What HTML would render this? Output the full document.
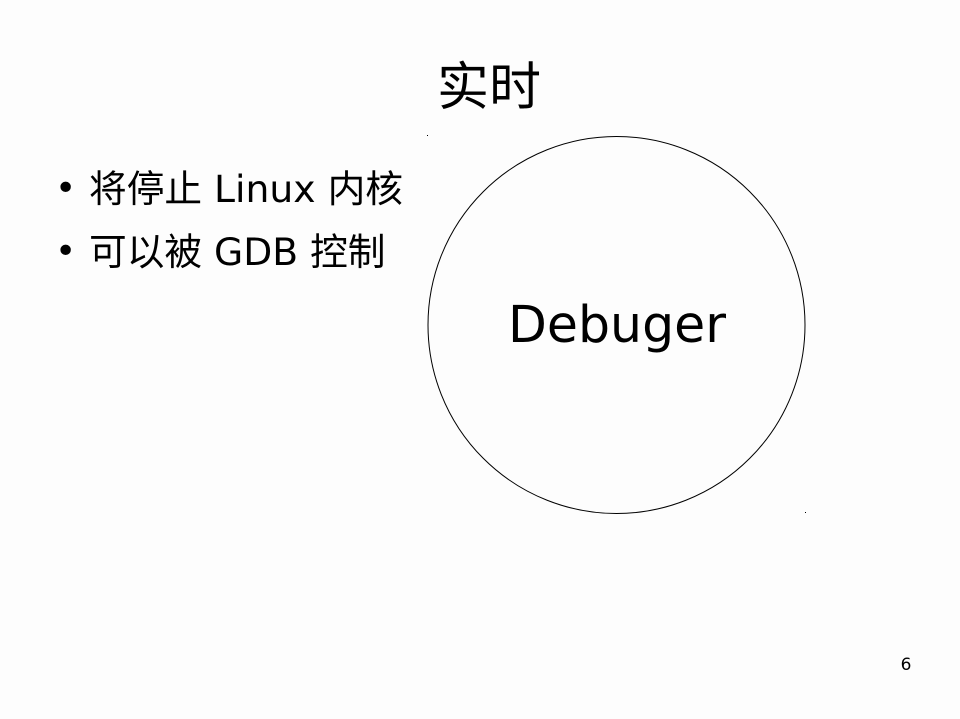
<!DOCTYPE html>
<html><head><meta charset="utf-8"><style>
html,body{margin:0;padding:0;}
body{width:960px;height:719px;background:#fdfdfd;position:relative;overflow:hidden;font-family:"DejaVu Sans","Liberation Sans","Noto Sans CJK SC",sans-serif;color:#000;}
.t{position:absolute;white-space:nowrap;}
</style></head><body>
<div class="t" style="left:0;width:978px;text-align:center;top:56px;font-size:52px;line-height:64px;">实时</div>
<div class="t" style="left:55px;top:167px;font-size:36px;line-height:44px;">•</div>
<div class="t" style="left:89px;top:167px;font-size:37.7px;line-height:44px;">将停止 Linux 内核</div>
<div class="t" style="left:55px;top:230px;font-size:36px;line-height:44px;">•</div>
<div class="t" style="left:89px;top:230px;font-size:37.7px;line-height:44px;">可以被 GDB 控制</div>
<svg width="960" height="719" style="position:absolute;left:0;top:0">
<circle cx="616.5" cy="325" r="188.5" fill="none" stroke="#000" stroke-width="1"/>
<text x="617" y="342" font-size="50.5" text-anchor="middle" font-family="DejaVu Sans, sans-serif">Debuger</text>
<rect x="427" y="135" width="1" height="1" fill="#000"/>
<rect x="805" y="512" width="1" height="1" fill="#000"/>
<text x="906" y="670" font-size="17" text-anchor="middle" font-family="DejaVu Sans, sans-serif">6</text>
</svg>
</body></html>
